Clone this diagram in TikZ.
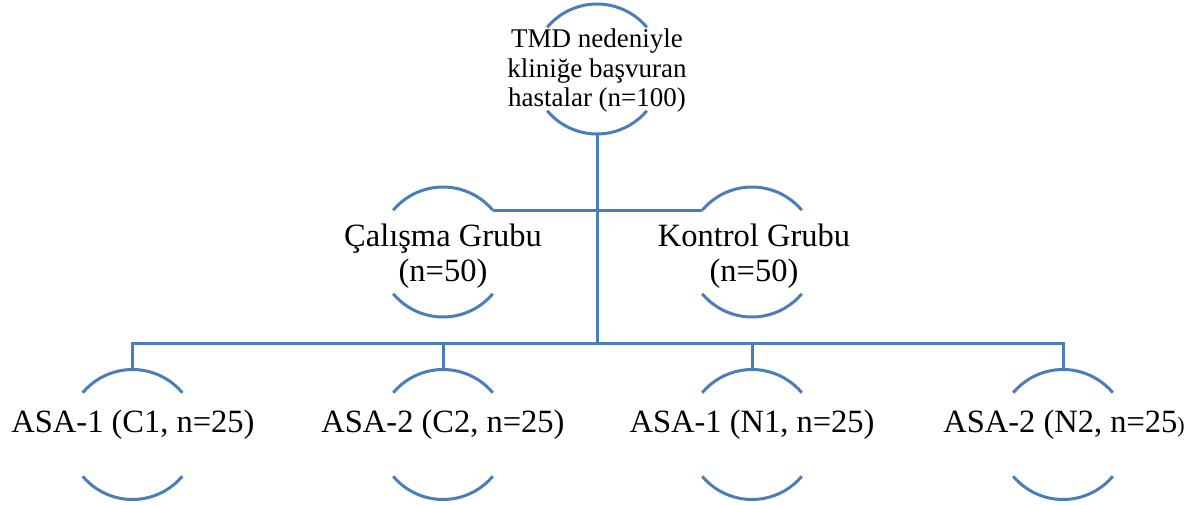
\documentclass[tikz,border=0pt]{standalone}
\usepackage{fontspec}
\setmainfont{Liberation Serif}
\definecolor{lineblue}{RGB}{74,126,187}
\begin{document}
\begin{tikzpicture}[x=1pt,y=-1pt,
  ring/.style={circle,minimum size=130pt,inner sep=0pt,outer sep=0pt},
  conn/.style={draw=lineblue,line width=3pt},
  toptext/.style={align=center,inner sep=0pt,font=\fontsize{27}{29.5}\selectfont},
  midtext/.style={align=center,inner sep=0pt,font=\fontsize{32.5}{34.5}\selectfont},
  lowtext/.style={inner sep=0pt,anchor=base,font=\fontsize{32.5}{34.5}\selectfont}]
\useasboundingbox (0,0) rectangle (1196,505);
% circle holders
\node[ring] (top) at (597,69) {};
\node[ring] (cal) at (443,252) {};
\node[ring] (kon) at (752,252) {};
\node[ring] (c1) at (132.5,434.5) {};
\node[ring] (c2) at (443,434.5) {};
\node[ring] (n1) at (752,434.5) {};
\node[ring] (n2) at (1063,434.5) {};
% arcs
\foreach \n in {top,cal,kon,c1,c2,n1,n2}{
  \draw[conn] (\n.40) arc[start angle=40,end angle=140,radius=65pt];
  \draw[conn] (\n.220) arc[start angle=220,end angle=320,radius=65pt];
}
% connectors
\coordinate (bus) at (597,343);
\draw[conn] (top.south) -- (bus);
\draw[conn] (cal.40) -- (kon.140);
\draw[conn] (c1.north) |- (bus) -| (n2.north);
\draw[conn] (c2.north) -- (c2.north |- bus);
\draw[conn] (n1.north) -- (n1.north |- bus);
% texts
\node[toptext] (ttop) at (597,71) {TMD nedeniyle\\kliniğe başvuran\\hastalar (n=100)};
\node[midtext] (tcal) at (443,256) {Çalışma Grubu\\(n=50)};
\node[midtext] (tkon) at (754,256) {Kontrol Grubu\\(n=50)};
\node[lowtext] (tc1) at (133,432) {ASA-1 (C1, n=25)};
\node[lowtext] (tc2) at (443,432) {ASA-2 (C2, n=25)};
\node[lowtext] (tn1) at (752,432) {ASA-1 (N1, n=25)};
\node[lowtext] (tn2) at (1064,432) {ASA-2 (N2, n=25{\fontsize{22}{22}\selectfont)}};
\end{tikzpicture}
\end{document}
